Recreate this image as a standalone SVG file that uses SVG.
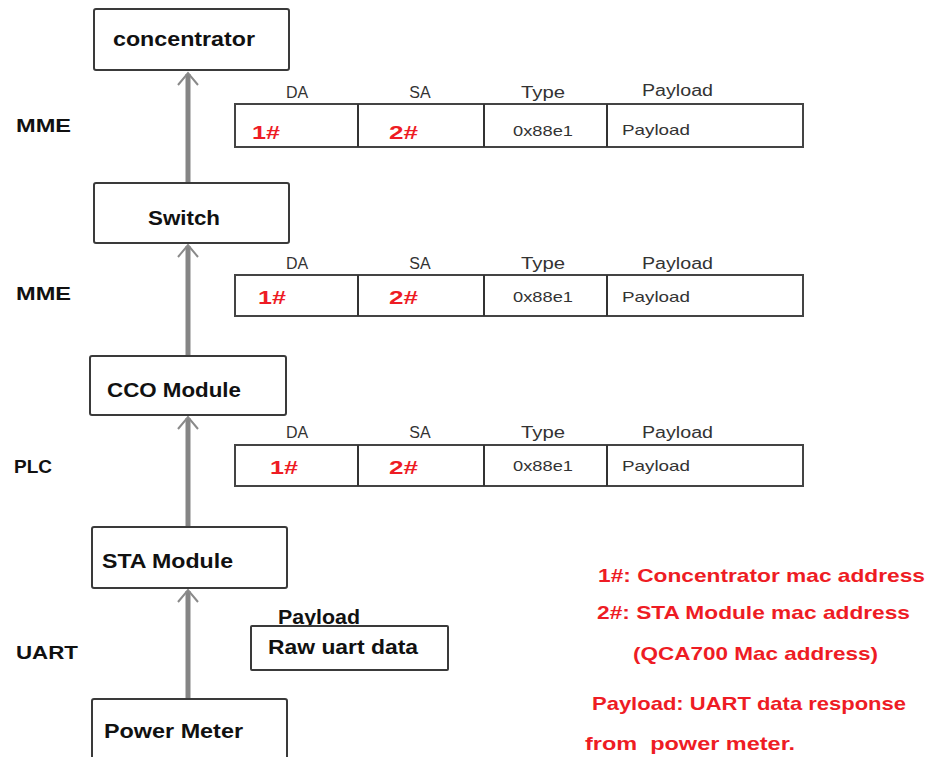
<svg xmlns="http://www.w3.org/2000/svg" width="930" height="757" viewBox="0 0 930 757">
<style>
.node{fill:#fff;stroke:#3a3a3a;stroke-width:2}
.nt{font-family:"Liberation Sans",Arial,sans-serif;font-weight:bold;font-size:20px;fill:#111}
.lbl{font-family:"Liberation Sans",Arial,sans-serif;font-weight:bold;font-size:19px;fill:#111}
.frame{fill:#fff;stroke:#444;stroke-width:2}
.div{stroke:#333;stroke-width:2}
.hd{font-family:"Liberation Sans",Arial,sans-serif;font-size:16px;fill:#333}
.cell{font-family:"Liberation Sans",Arial,sans-serif;font-size:15px;fill:#333}
.red{font-family:"Liberation Sans",Arial,sans-serif;font-weight:bold;font-size:19px;fill:#ee1c24}
.note{font-family:"Liberation Sans",Arial,sans-serif;font-weight:bold;font-size:19px;fill:#ee1c24;white-space:pre}
.shaft{stroke:#858585;stroke-width:5}
.head{fill:none;stroke:#8a8a8a;stroke-width:2}
</style>
<rect width="930" height="757" fill="#fff"/>

<g id="connectors">
  <line class="shaft" x1="188" y1="183" x2="188" y2="74"/>
  <polyline class="head" points="178,85 188,73 198,85"/>
  <line class="shaft" x1="188" y1="356" x2="188" y2="246"/>
  <polyline class="head" points="178,257 188,245 198,257"/>
  <line class="shaft" x1="188" y1="527" x2="188" y2="418"/>
  <polyline class="head" points="178,429 188,417 198,429"/>
  <line class="shaft" x1="188" y1="699" x2="188" y2="591"/>
  <polyline class="head" points="178,602 188,590 198,602"/>
</g>

<g id="concentrator">
  <rect class="node" x="94" y="9" width="195" height="61" rx="2"/>
  <text class="nt" x="113" y="46" textLength="142" lengthAdjust="spacingAndGlyphs">concentrator</text>
</g>
<g id="switch">
  <rect class="node" x="94" y="183" width="195" height="60" rx="2"/>
  <text class="nt" x="148" y="225" textLength="72" lengthAdjust="spacingAndGlyphs">Switch</text>
</g>
<g id="cco">
  <rect class="node" x="90" y="356" width="196" height="59" rx="2"/>
  <text class="nt" x="107" y="397" textLength="134" lengthAdjust="spacingAndGlyphs">CCO Module</text>
</g>
<g id="sta">
  <rect class="node" x="92" y="527" width="195" height="61" rx="2"/>
  <text class="nt" x="102" y="568" textLength="131" lengthAdjust="spacingAndGlyphs">STA Module</text>
</g>
<g id="powermeter">
  <rect class="node" x="92" y="699" width="195" height="70" rx="2"/>
  <text class="nt" x="104" y="738" textLength="139" lengthAdjust="spacingAndGlyphs">Power Meter</text>
</g>

<g id="layer-labels">
  <text class="lbl" x="16" y="132" textLength="55" lengthAdjust="spacingAndGlyphs">MME</text>
  <text class="lbl" x="16" y="300" textLength="55" lengthAdjust="spacingAndGlyphs">MME</text>
  <text class="lbl" x="14" y="473" textLength="38" lengthAdjust="spacingAndGlyphs">PLC</text>
  <text class="lbl" x="16" y="659" textLength="62" lengthAdjust="spacingAndGlyphs">UART</text>
</g>

<g id="frame-mme1">
  <text class="hd" x="297" y="98" text-anchor="middle">DA</text>
  <text class="hd" x="420" y="98" text-anchor="middle">SA</text>
  <text class="hd" x="543" y="98" text-anchor="middle" textLength="44" lengthAdjust="spacingAndGlyphs">Type</text>
  <text class="hd" x="642" y="96" textLength="71" lengthAdjust="spacingAndGlyphs">Payload</text>
  <rect class="frame" x="235" y="104" width="568" height="43"/>
  <line class="div" x1="358" y1="104" x2="358" y2="147"/>
  <line class="div" x1="484" y1="104" x2="484" y2="147"/>
  <line class="div" x1="607" y1="104" x2="607" y2="147"/>
  <text class="red" x="252" y="139" textLength="28" lengthAdjust="spacingAndGlyphs">1#</text>
  <text class="red" x="389" y="139" textLength="29" lengthAdjust="spacingAndGlyphs">2#</text>
  <text class="cell" x="513" y="136" textLength="60" lengthAdjust="spacingAndGlyphs">0x88e1</text>
  <text class="cell" x="622" y="135" textLength="68" lengthAdjust="spacingAndGlyphs">Payload</text>
</g>

<g id="frame-mme2">
  <text class="hd" x="297" y="269" text-anchor="middle">DA</text>
  <text class="hd" x="420" y="269" text-anchor="middle">SA</text>
  <text class="hd" x="543" y="269" text-anchor="middle" textLength="44" lengthAdjust="spacingAndGlyphs">Type</text>
  <text class="hd" x="642" y="269" textLength="71" lengthAdjust="spacingAndGlyphs">Payload</text>
  <rect class="frame" x="235" y="275" width="568" height="41"/>
  <line class="div" x1="358" y1="275" x2="358" y2="316"/>
  <line class="div" x1="484" y1="275" x2="484" y2="316"/>
  <line class="div" x1="607" y1="275" x2="607" y2="316"/>
  <text class="red" x="258" y="304" textLength="28" lengthAdjust="spacingAndGlyphs">1#</text>
  <text class="red" x="389" y="304" textLength="29" lengthAdjust="spacingAndGlyphs">2#</text>
  <text class="cell" x="513" y="302" textLength="60" lengthAdjust="spacingAndGlyphs">0x88e1</text>
  <text class="cell" x="622" y="302" textLength="68" lengthAdjust="spacingAndGlyphs">Payload</text>
</g>

<g id="frame-plc">
  <text class="hd" x="297" y="438" text-anchor="middle">DA</text>
  <text class="hd" x="420" y="438" text-anchor="middle">SA</text>
  <text class="hd" x="543" y="438" text-anchor="middle" textLength="44" lengthAdjust="spacingAndGlyphs">Type</text>
  <text class="hd" x="642" y="438" textLength="71" lengthAdjust="spacingAndGlyphs">Payload</text>
  <rect class="frame" x="235" y="445" width="568" height="41"/>
  <line class="div" x1="358" y1="445" x2="358" y2="486"/>
  <line class="div" x1="484" y1="445" x2="484" y2="486"/>
  <line class="div" x1="607" y1="445" x2="607" y2="486"/>
  <text class="red" x="270" y="474" textLength="28" lengthAdjust="spacingAndGlyphs">1#</text>
  <text class="red" x="389" y="474" textLength="29" lengthAdjust="spacingAndGlyphs">2#</text>
  <text class="cell" x="513" y="471" textLength="60" lengthAdjust="spacingAndGlyphs">0x88e1</text>
  <text class="cell" x="622" y="471" textLength="68" lengthAdjust="spacingAndGlyphs">Payload</text>
</g>

<g id="uart-payload">
  <text class="nt" x="278" y="624" textLength="82" lengthAdjust="spacingAndGlyphs">Payload</text>
  <rect class="node" x="251" y="626" width="197" height="44" rx="1"/>
  <text class="nt" x="268" y="654" textLength="150" lengthAdjust="spacingAndGlyphs">Raw uart data</text>
</g>

<g id="legend">
  <text class="note" x="598" y="582" textLength="327" lengthAdjust="spacingAndGlyphs">1#: Concentrator mac address</text>
  <text class="note" x="597" y="619" textLength="313" lengthAdjust="spacingAndGlyphs">2#: STA Module mac address</text>
  <text class="note" x="633" y="660" textLength="245" lengthAdjust="spacingAndGlyphs">(QCA700 Mac address)</text>
  <text class="note" x="592" y="710" textLength="314" lengthAdjust="spacingAndGlyphs">Payload: UART data response</text>
  <text class="note" x="585" y="750" textLength="210" lengthAdjust="spacingAndGlyphs" xml:space="preserve">from  power meter.</text>
</g>
</svg>
